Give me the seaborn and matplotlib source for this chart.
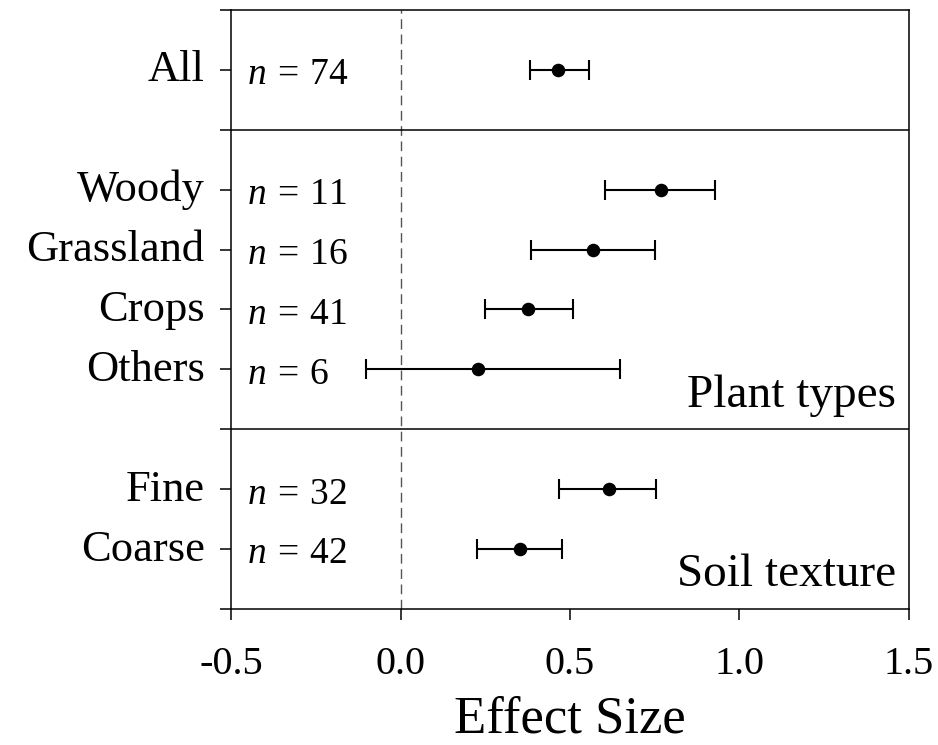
"""
Forest plot of effect sizes by plant type and soil texture.
"""

import numpy as np
import pandas as pd
import matplotlib
matplotlib.use("Agg")
import matplotlib.pyplot as plt
import matplotlib.transforms as mtransforms
import seaborn as sns

# data
categories = ["All", "Woody", "Grassland", "Crops", "Others", "Fine", "Coarse"]
groups = ["All", "Plant types", "Plant types", "Plant types", "Plant types",
          "Soil texture", "Soil texture"]
sample_n = [74, 11, 16, 41, 6, 32, 42]
effect = [0.465, 0.769, 0.568, 0.376, 0.230, 0.615, 0.354]
ci_low = [0.381, 0.602, 0.384, 0.249, -0.103, 0.468, 0.225]
ci_high = [0.556, 0.928, 0.750, 0.509, 0.647, 0.753, 0.476]
x_ticks = [-0.5, 0.0, 0.5, 1.0, 1.5]

sns.set_style("ticks")
plt.rcParams["font.family"] = ["Liberation Serif", "DejaVu Serif"]
plt.rcParams["mathtext.fontset"] = "custom"
plt.rcParams["mathtext.rm"] = "Liberation Serif"
plt.rcParams["mathtext.it"] = "Liberation Serif:italic"
for key in ["text.color", "axes.labelcolor", "xtick.color", "ytick.color",
            "axes.edgecolor"]:
    plt.rcParams[key] = "black"

df = pd.DataFrame({
    "category": categories,
    "group": groups,
    "n": sample_n,
    "effect": effect,
    "low": ci_low,
    "high": ci_high,
})

# row positions: one empty slot between groups, one at each end
pos = []
separators = []
row = 1
for i, g in enumerate(df["group"]):
    if i > 0 and g != df["group"][i - 1]:
        separators.append(row)
        row += 1
    pos.append(row)
    row += 1
df["pos"] = pos
y_max = row

fig = plt.figure(figsize=(9.38, 7.45), dpi=100)
ax = fig.add_axes([0.2463, 0.1826, 0.9690 - 0.2463, 0.9866 - 0.1826])

ax.axvline(0, color="#555555", lw=1.0, ls=(0, (7, 4)), zorder=1)
for s in separators:
    ax.axhline(s, color="black", lw=1.1, zorder=1)

ax.errorbar(
    df["effect"], df["pos"],
    xerr=[df["effect"] - df["low"], df["high"] - df["effect"]],
    fmt="none", ecolor="black", elinewidth=1.5, capsize=7, capthick=1.5,
    zorder=2,
)
sns.scatterplot(data=df, x="effect", y="pos", ax=ax, color="black",
                s=95, edgecolor="black", linewidth=0, zorder=3, legend=False)

for _, r in df.iterrows():
    ax.text(-0.452, r["pos"] + 0.24, f"$n\\:=\\:{r['n']}$", fontsize=27,
            va="baseline", ha="left")

# group titles in the lower-right corner of their panels
for g in ["Plant types", "Soil texture"]:
    last = df.loc[df["group"] == g, "pos"].max()
    ax.text(1.462, last + 0.62, g, fontsize=34, ha="right", va="baseline")

ax.set_xlim(-0.5, 1.5)
ax.set_ylim(y_max, 0)
ax.set_xticks(x_ticks)
ax.set_xticklabels([f"{t:.1f}" for t in x_ticks], fontsize=29)
ax.set_yticks(np.arange(0, y_max + 1))
labels = [""] * (y_max + 1)
for c, p in zip(df["category"], df["pos"]):
    labels[p] = c
ax.set_yticklabels(labels, fontsize=32)
ax.tick_params(axis="both", direction="out", length=8, width=1.1,
               color="black")
ax.tick_params(axis="x", pad=19)
ax.tick_params(axis="y", pad=11)

# nudge the category labels up a little
shift = mtransforms.ScaledTranslation(0, 4 / 100, fig.dpi_scale_trans)
for lab in ax.get_yticklabels():
    lab.set_transform(lab.get_transform() + shift)

for sp in ax.spines.values():
    sp.set_linewidth(1.1)
    sp.set_color("black")
    sp.set_visible(True)
ax.set_xlabel("Effect Size", fontsize=38, labelpad=9)
ax.set_ylabel("")

fig.savefig("out.png", dpi=100)
